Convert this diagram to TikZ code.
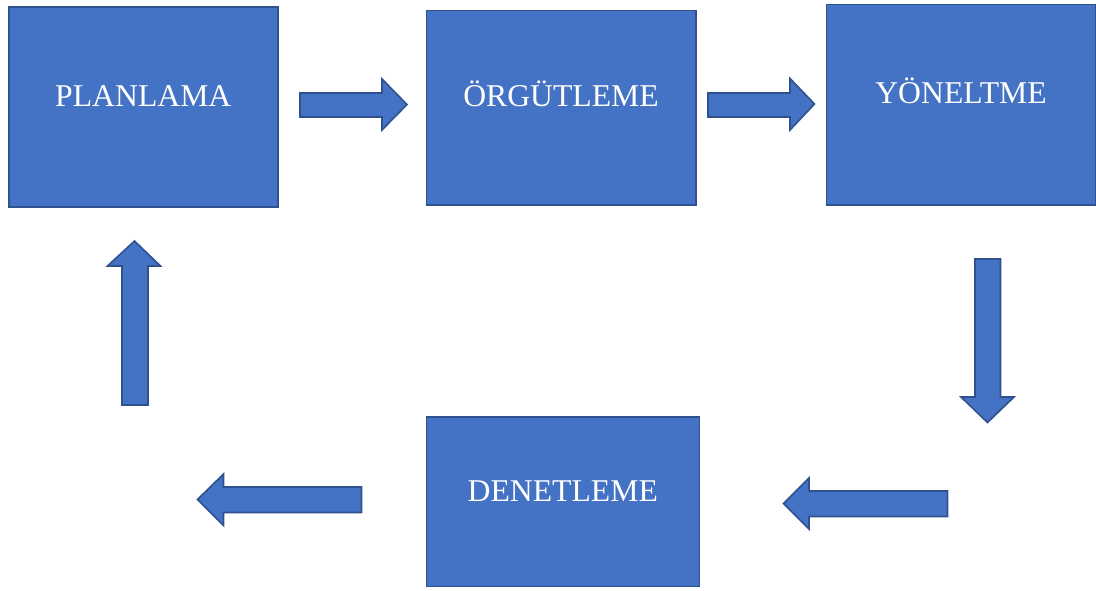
\documentclass[tikz,border=0pt]{standalone}
\usepackage{fontspec}
\setmainfont{Liberation Serif}
\definecolor{boxfill}{HTML}{4472C4}
\definecolor{boxline}{HTML}{2F528F}
\begin{document}
\begin{tikzpicture}[x=1pt,y=-1pt,
  stagebox/.style={draw=boxline,fill=boxfill,line width=1.6pt,anchor=north west,
    inner sep=0pt,align=center,text=white,font=\fontsize{31.7}{38}\selectfont},
  blockarrow/.style={draw=boxline,fill=boxfill,line width=1.6pt,line join=miter}]
\useasboundingbox (0,0) rectangle (1096,590);
\node[stagebox,text width=269pt,text height=100pt,text depth=100pt] (plan) at (8,6) {PLANLAMA};
\node[stagebox,text width=269.5pt,text height=96.2pt,text depth=98.3pt] (org) at (425.5,9.5) {ÖRGÜTLEME};
\node[stagebox,text width=269.5pt,text height=98.8pt,text depth=101.7pt] (yon) at (825.5,3.5) {YÖNELTME};
\node[stagebox,text width=273pt,text height=85pt,text depth=84.7pt] (den) at (425.5,416) {DENETLEME};
% plan -> org
\draw[blockarrow] (300,93) -- (382,93) -- (382,79) -- (407,104.5) -- (382,130) -- (382,117) -- (300,117) -- cycle;
% org -> yon
\draw[blockarrow] (708,93) -- (790,93) -- (790,78.5) -- (814.5,104) -- (790,130) -- (790,117) -- (708,117) -- cycle;
% yon down
\draw[blockarrow] (975,259) -- (1000.5,259) -- (1000.5,397) -- (1014,397) -- (987.5,422.5) -- (961,397) -- (975,397) -- cycle;
% -> den
\draw[blockarrow] (947.5,491) -- (809,491) -- (809,478) -- (783.5,503.5) -- (809,529) -- (809,516.5) -- (947.5,516.5) -- cycle;
% den ->
\draw[blockarrow] (361.5,487) -- (223.5,487) -- (223.5,474) -- (197.5,499.5) -- (223.5,525.5) -- (223.5,512.5) -- (361.5,512.5) -- cycle;
% up -> plan
\draw[blockarrow] (122,405) -- (148,405) -- (148,266) -- (160.5,266) -- (134.5,241) -- (107.5,266) -- (122,266) -- cycle;
\end{tikzpicture}
\end{document}
